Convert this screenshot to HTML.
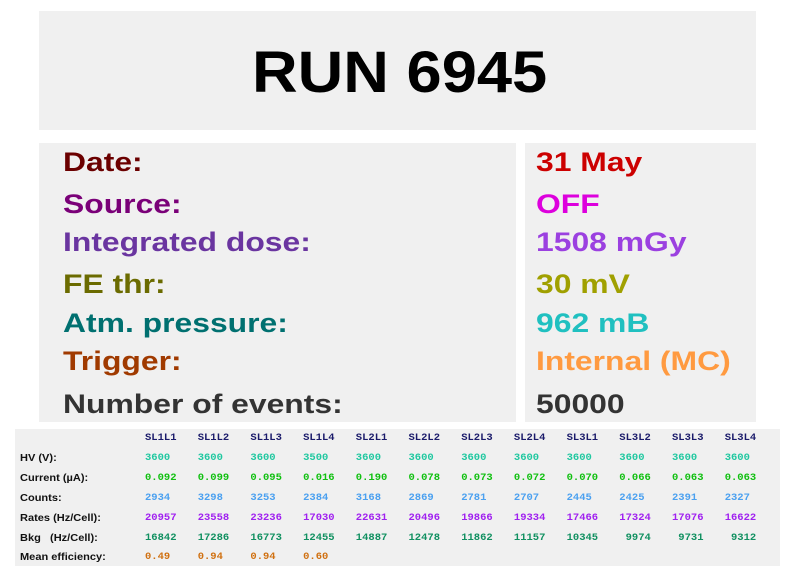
<!DOCTYPE html>
<html><head><style>
body{margin:0;width:796px;height:572px;background:#fff;position:relative;font-family:"Liberation Sans",sans-serif;overflow:hidden}
.box{position:absolute;background:#f0f0f0}
.t{position:absolute;font-weight:bold;white-space:nowrap;line-height:1;transform-origin:0 0}
.l{font-size:27px;left:63px;transform:scaleX(1.18)}
.r{font-size:27px;left:536px;transform:scaleX(1.18)}
.m{position:absolute;font-family:"Liberation Mono",monospace;font-weight:bold;font-size:10.5px;white-space:pre;line-height:1}
.lab{position:absolute;left:20px;font-size:10.5px;font-weight:bold;line-height:1;color:#111;transform:scaleX(1.05);transform-origin:0 0;white-space:nowrap}
</style></head><body>
<div class="box" style="left:39px;top:11px;width:717px;height:119px"></div>
<div class="t" style="left:252px;top:44px;font-size:58px;color:#000;transform:scaleX(1.09)">RUN 6945</div>
<div class="box" style="left:39px;top:143px;width:477px;height:279px"></div>
<div class="box" style="left:525px;top:143px;width:231px;height:279px"></div>
<div class="t l" style="top:149px;color:#6b0000">Date:</div>
<div class="t l" style="top:191px;color:#7a0078">Source:</div>
<div class="t l" style="top:229px;color:#6a35a0">Integrated dose:</div>
<div class="t l" style="top:271px;color:#6b6b00">FE thr:</div>
<div class="t l" style="top:310px;color:#007070">Atm. pressure:</div>
<div class="t l" style="top:348px;color:#a03a00">Trigger:</div>
<div class="t l" style="top:391px;color:#333">Number of events:</div>
<div class="t r" style="top:149px;color:#cc0000">31 May</div>
<div class="t r" style="top:191px;color:#dd00dd">OFF</div>
<div class="t r" style="top:229px;color:#9b40e0">1508 mGy</div>
<div class="t r" style="top:271px;color:#a0a000">30 mV</div>
<div class="t r" style="top:310px;color:#20c0c0">962 mB</div>
<div class="t r" style="top:348px;color:#ff9a40">Internal (MC)</div>
<div class="t r" style="top:391px;color:#333">50000</div>
<div class="box" style="left:15px;top:429px;width:765px;height:137px"></div>
<div class="lab" style="top:453px">HV (V):</div>
<div class="lab" style="top:473px">Current (µA):</div>
<div class="lab" style="top:493px">Counts:</div>
<div class="lab" style="top:513px">Rates (Hz/Cell):</div>
<div class="lab" style="top:533px">Bkg &nbsp; (Hz/Cell):</div>
<div class="lab" style="top:552px">Mean efficiency:</div>
<div id="g"></div>
<script>
var cols=["SL1L1","SL1L2","SL1L3","SL1L4","SL2L1","SL2L2","SL2L3","SL2L4","SL3L1","SL3L2","SL3L3","SL3L4"];
var rows=[
[cols,433,"#1a1a6a",0],
[["3600","3600","3600","3500","3600","3600","3600","3600","3600","3600","3600","3600"],453,"#20c8a0",0],
[["0.092","0.099","0.095","0.016","0.190","0.078","0.073","0.072","0.070","0.066","0.063","0.063"],473,"#10c010",0],
[["2934","3298","3253","2384","3168","2869","2781","2707","2445","2425","2391","2327"],493,"#4aa0f0",0],
[["20957","23558","23236","17030","22631","20496","19866","19334","17466","17324","17076","16622"],513,"#a020f0",0],
[["16842","17286","16773","12455","14887","12478","11862","11157","10345"," 9974"," 9731"," 9312"],533,"#109060",0],
[["0.49","0.94","0.94","0.60"],552,"#d07010",0]];
var h="";
rows.forEach(function(r){r[0].forEach(function(v,i){h+='<div class="m" style="left:'+(145+i*52.7).toFixed(1)+'px;top:'+r[1]+'px;color:'+r[2]+'">'+v+'</div>';});});
document.getElementById("g").innerHTML=h;
</script>
</body></html>
